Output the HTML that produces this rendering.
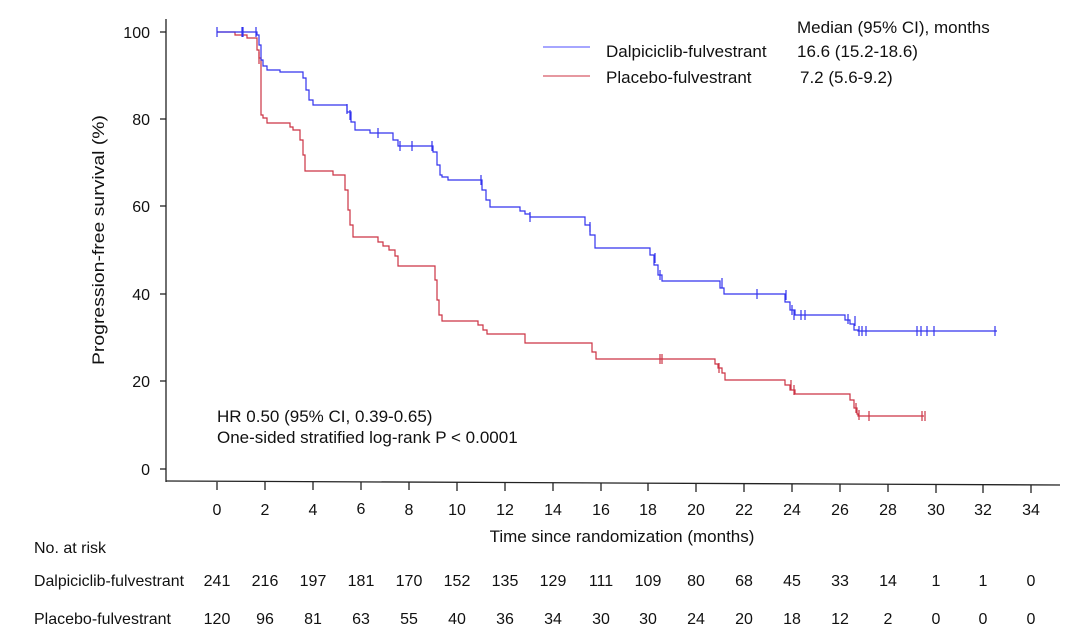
<!DOCTYPE html>
<html><head><meta charset="utf-8"><style>
html,body{margin:0;padding:0;background:#fff;}
svg{display:block;font-family:"Liberation Sans",Arial,sans-serif;}
</style></head><body>
<svg width="1080" height="632" viewBox="0 0 1080 632" xmlns="http://www.w3.org/2000/svg">
<g stroke="#222" stroke-width="1.3" fill="none">
<line x1="166" y1="19" x2="166" y2="482"/>
<line x1="166" y1="481" x2="1060" y2="485"/>
<line x1="160" y1="32" x2="166" y2="32"/><line x1="160" y1="119" x2="166" y2="119"/><line x1="160" y1="206" x2="166" y2="206"/><line x1="160" y1="294" x2="166" y2="294"/><line x1="160" y1="381" x2="166" y2="381"/><line x1="160" y1="469" x2="166" y2="469"/>
<line x1="217" y1="482" x2="217" y2="490"/><line x1="265" y1="482" x2="265" y2="490"/><line x1="313" y1="482" x2="313" y2="490"/><line x1="361" y1="482" x2="361" y2="490"/><line x1="409" y1="482" x2="409" y2="490"/><line x1="457" y1="482" x2="457" y2="491"/><line x1="505" y1="483" x2="505" y2="491"/><line x1="553" y1="483" x2="553" y2="491"/><line x1="601" y1="483" x2="601" y2="491"/><line x1="648" y1="483" x2="648" y2="491"/><line x1="696" y1="483" x2="696" y2="492"/><line x1="744" y1="484" x2="744" y2="492"/><line x1="792" y1="484" x2="792" y2="492"/><line x1="840" y1="484" x2="840" y2="492"/><line x1="888" y1="484" x2="888" y2="492"/><line x1="936" y1="484" x2="936" y2="493"/><line x1="983" y1="484" x2="983" y2="493"/><line x1="1031" y1="485" x2="1031" y2="493"/>
</g>
<g font-size="16" fill="#111" text-anchor="end">
<text x="150" y="38">100</text><text x="150" y="125">80</text><text x="150" y="212">60</text><text x="150" y="300">40</text><text x="150" y="387">20</text><text x="150" y="475">0</text>
</g>
<g font-size="16" fill="#111" text-anchor="middle">
<text x="217" y="515">0</text><text x="265" y="515">2</text><text x="313" y="515">4</text><text x="361" y="514">6</text><text x="409" y="515">8</text><text x="457" y="515">10</text><text x="505" y="515">12</text><text x="553" y="515">14</text><text x="601" y="515">16</text><text x="648" y="515">18</text><text x="696" y="515">20</text><text x="744" y="515">22</text><text x="792" y="515">24</text><text x="840" y="515">26</text><text x="888" y="515">28</text><text x="936" y="515">30</text><text x="983" y="515">32</text><text x="1031" y="515">34</text>
<text x="622" y="542" font-size="17">Time since randomization (months)</text>
<text transform="translate(104,240) rotate(-90)" font-size="17" textLength="250" lengthAdjust="spacingAndGlyphs">Progression-free survival (%)</text>
</g>
<g font-size="17" fill="#111">
<text x="217" y="422">HR 0.50 (95% CI, 0.39-0.65)</text>
<text x="217" y="443">One-sided stratified log-rank P &lt; 0.0001</text>
<text x="797" y="33">Median (95% CI), months</text>
<text x="606" y="57">Dalpiciclib-fulvestrant</text>
<text x="797" y="57">16.6 (15.2-18.6)</text>
<text x="606" y="83">Placebo-fulvestrant</text>
<text x="800" y="83">7.2 (5.6-9.2)</text>
</g>
<g font-size="16" fill="#111">
<text x="34" y="553">No. at risk</text>
<text x="34" y="586" textLength="150" lengthAdjust="spacingAndGlyphs">Dalpiciclib-fulvestrant</text>
<text x="34" y="624">Placebo-fulvestrant</text>
</g>
<g font-size="16" fill="#111" text-anchor="middle">
<text x="217" y="586">241</text><text x="265" y="586">216</text><text x="313" y="586">197</text><text x="361" y="586">181</text><text x="409" y="586">170</text><text x="457" y="586">152</text><text x="505" y="586">135</text><text x="553" y="586">129</text><text x="601" y="586">111</text><text x="648" y="586">109</text><text x="696" y="586">80</text><text x="744" y="586">68</text><text x="792" y="586">45</text><text x="840" y="586">33</text><text x="888" y="586">14</text><text x="936" y="586">1</text><text x="983" y="586">1</text><text x="1031" y="586">0</text>
<text x="217" y="624">120</text><text x="265" y="624">96</text><text x="313" y="624">81</text><text x="361" y="624">63</text><text x="409" y="624">55</text><text x="457" y="624">40</text><text x="505" y="624">36</text><text x="553" y="624">34</text><text x="601" y="624">30</text><text x="648" y="624">30</text><text x="696" y="624">24</text><text x="744" y="624">20</text><text x="792" y="624">18</text><text x="840" y="624">12</text><text x="888" y="624">2</text><text x="936" y="624">0</text><text x="983" y="624">0</text><text x="1031" y="624">0</text>
</g>
<line x1="543" y1="47" x2="590" y2="47" stroke="#8888ff" stroke-width="1.5"/>
<line x1="543" y1="76" x2="590" y2="76" stroke="#dd7780" stroke-width="1.5"/>
<path fill="none" stroke="#cc3344" stroke-width="1.2" d="M217 32 H235 V35 H247 V38 H257 V50 H259 V58 H261 V115 H263 V118 H267 V123 H290 V127 H293 V130 H300 V140 H303 V155 H305 V171 H333 V175 H345 V190 H348 V210 H350 V225 H353 V237 H378 V242 H383 V246 H389 V250 H395 V256 H398 V266 H435 V280 H437 V300 H439 V315 H442 V321 H478 V325 H483 V330 H487 V334 H525 V343 H592 V352 H596 V359 H715 V364 H718 V368 H722 V373 H725 V380 H785 V385 H790 V390 H795 V394 H850 V400 H854 V408 H857 V414 H858 V416 H924"/>
<g stroke="#cc3344" stroke-width="1.2">
<line x1="259" y1="52" x2="259" y2="64"/><line x1="660" y1="354" x2="660" y2="364"/><line x1="662" y1="354" x2="662" y2="364"/><line x1="719" y1="363" x2="719" y2="373"/><line x1="791" y1="380" x2="791" y2="390"/><line x1="794" y1="385" x2="794" y2="395"/><line x1="856" y1="403" x2="856" y2="413"/><line x1="859" y1="410" x2="859" y2="420"/><line x1="869" y1="411" x2="869" y2="421"/><line x1="922" y1="411" x2="922" y2="421"/><line x1="925" y1="411" x2="925" y2="421"/>
</g>
<path fill="none" stroke="#3333ee" stroke-width="1.2" d="M217 32 H257 V35 H259 V45 H261 V60 H263 V66 H267 V70 H280 V72 H303 V78 H306 V90 H309 V100 H313 V105 H347 V112 H351 V122 H355 V130 H370 V133 H393 V140 H398 V146 H433 V152 H437 V165 H440 V175 H442 V177 H448 V180 H482 V190 H486 V200 H490 V207 H520 V211 H525 V214 H530 V217 H585 V225 H590 V235 H595 V248 H650 V255 H654 V265 H658 V275 H662 V281 H720 V288 H724 V294 H785 V302 H790 V310 H795 V315 H845 V320 H850 V324 H854 V330 H858 V331 H997"/>
<g stroke="#3333ee" stroke-width="1.2">
<line x1="217" y1="27" x2="217" y2="37"/><line x1="242" y1="27" x2="242" y2="37"/><line x1="243" y1="27" x2="243" y2="37"/><line x1="256" y1="27" x2="256" y2="37"/><line x1="347" y1="104" x2="347" y2="114"/><line x1="350" y1="110" x2="350" y2="120"/><line x1="378" y1="128" x2="378" y2="138"/><line x1="400" y1="141" x2="400" y2="151"/><line x1="412" y1="141" x2="412" y2="151"/><line x1="432" y1="141" x2="432" y2="151"/><line x1="481" y1="175" x2="481" y2="185"/><line x1="530" y1="212" x2="530" y2="222"/><line x1="590" y1="222" x2="590" y2="232"/><line x1="655" y1="253" x2="655" y2="263"/><line x1="660" y1="270" x2="660" y2="280"/><line x1="722" y1="278" x2="722" y2="288"/><line x1="757" y1="289" x2="757" y2="299"/><line x1="786" y1="290" x2="786" y2="300"/><line x1="792" y1="305" x2="792" y2="315"/><line x1="794" y1="310" x2="794" y2="320"/><line x1="801" y1="310" x2="801" y2="320"/><line x1="805" y1="310" x2="805" y2="320"/><line x1="848" y1="314" x2="848" y2="324"/><line x1="855" y1="316" x2="855" y2="326"/><line x1="859" y1="326" x2="859" y2="336"/><line x1="862" y1="326" x2="862" y2="336"/><line x1="866" y1="326" x2="866" y2="336"/><line x1="917" y1="326" x2="917" y2="336"/><line x1="921" y1="326" x2="921" y2="336"/><line x1="927" y1="326" x2="927" y2="336"/><line x1="934" y1="326" x2="934" y2="336"/><line x1="995" y1="326" x2="995" y2="336"/>
</g>
</svg>
</body></html>
